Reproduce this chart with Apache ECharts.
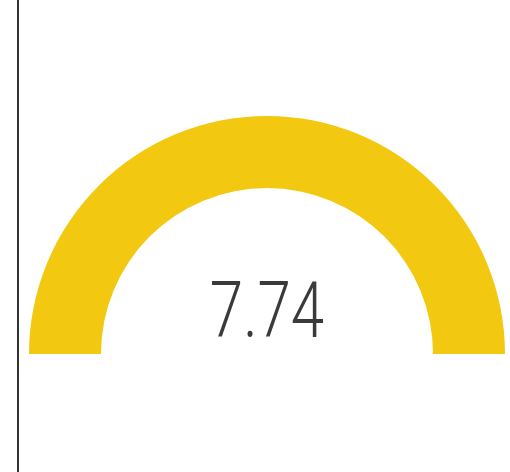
<!DOCTYPE html>
<html>
<head>
<meta charset="utf-8">
<script src="https://cdn.jsdelivr.net/npm/echarts@6/dist/echarts.min.js"></script>
<style>
html, body { margin: 0; padding: 0; background: #fff; }
#chart { width: 510px; height: 472px; }
</style>
</head>
<body>
<div id="chart"></div>
<script>
// gauge data
var gaugeValues = [7.74]
var gaugeMin = 0
var gaugeMax = 7.74

var chart = echarts.init(document.getElementById('chart'))
var option = {
  animation: false,
  graphic: [{
    type: 'line',
    shape: { x1: 18, y1: 0, x2: 18, y2: 472 },
    style: { stroke: '#333', lineWidth: 2 }
  }, {
    // condensed value label, like the original DIN face
    type: 'text',
    x: 267,
    y: 318,
    scaleX: 0.78,
    style: {
      text: gaugeValues[0].toFixed(2),
      font: '300 77px Roboto, "Open Sans", sans-serif',
      fill: '#3a3a3a',
      align: 'center',
      verticalAlign: 'middle'
    }
  }],
  series: [{
    type: 'gauge',
    center: [267, 354],
    radius: 238,
    startAngle: 180,
    endAngle: 0,
    min: gaugeMin,
    max: gaugeMax,
    axisLine: {
      lineStyle: {
        width: 72,
        color: [[1, '#F2C811']]
      }
    },
    pointer: { show: false },
    axisTick: { show: false },
    splitLine: { show: false },
    axisLabel: { show: false },
    title: { show: false },
    detail: { show: false },
    data: gaugeValues.map(function (v) { return { value: v } })
  }]
}
chart.setOption(option)
</script>
</body>
</html>
